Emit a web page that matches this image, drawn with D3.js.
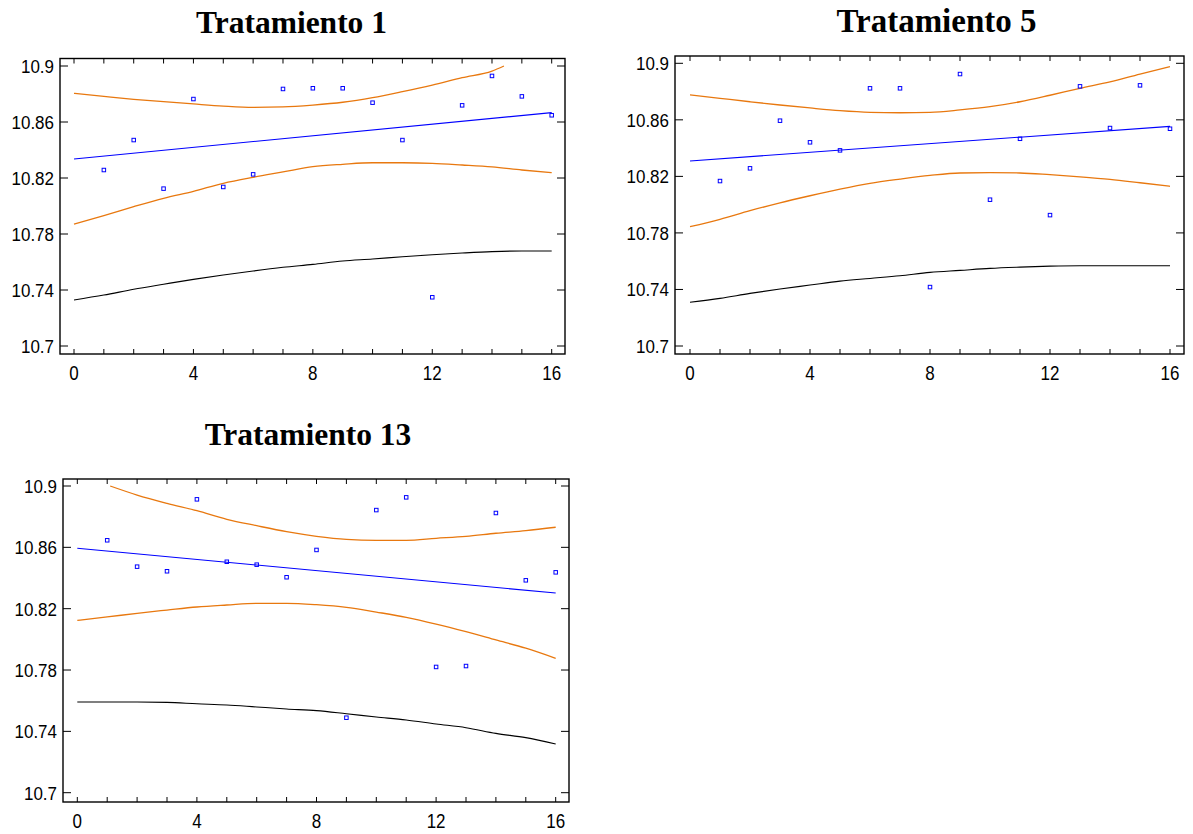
<!DOCTYPE html>
<html>
<head>
<meta charset="utf-8">
<script src="https://cdn.jsdelivr.net/npm/d3@7"></script>
<style>
  body { margin: 0; background: #fff; }
  svg { display: block; }
  .tick-label { font-family: "Liberation Sans", Arial, sans-serif; font-size: 17px; fill: #000; }
  .title { font-family: "Liberation Serif", "Times New Roman", serif; font-weight: bold; fill: #000; }
</style>
</head>
<body>
<script>
// ---- data ----
var xTicks = [0, 4, 8, 12, 16];
var yTicks = [10.7, 10.74, 10.78, 10.82, 10.86, 10.9];
var days = [1, 2, 3, 4, 5, 6, 7, 8, 9, 10, 11, 12, 13, 14, 15, 16];
var gridX = [0, 1, 2, 3, 4, 5, 6, 7, 8, 9, 10, 11, 12, 13, 14, 15, 16];

// Tratamiento 1
var t1Obs = [10.8257, 10.8471, 10.8124, 10.8764, 10.8136, 10.8226, 10.8836, 10.8841,
             10.8841, 10.8738, 10.8471, 10.7348, 10.8719, 10.8929, 10.8783, 10.8648];
var t1Fit = [[0, 10.8336], [16, 10.8667]];
var t1Upper = [[0, 10.8805], [1, 10.8783], [2, 10.8762], [3, 10.8745], [4, 10.8729], [5, 10.8714],
               [6, 10.8705], [7, 10.8708], [8, 10.8721], [9, 10.8741], [10, 10.8774], [11, 10.8817],
               [12, 10.8864], [13, 10.8917], [14, 10.8964], [14.4, 10.9]];
var t1Lower = [10.7871, 10.7931, 10.7995, 10.8055, 10.8105, 10.8162, 10.8205, 10.8243, 10.8281,
               10.8298, 10.8309, 10.8309, 10.8305, 10.8293, 10.8279, 10.8257, 10.8238];
var t1Limit = [10.7329, 10.7364, 10.7405, 10.7441, 10.7476, 10.7507, 10.7536, 10.7562, 10.7583,
               10.7607, 10.7621, 10.7638, 10.7652, 10.7664, 10.7674, 10.7679, 10.7679];

// Tratamiento 5
var t5Obs = [10.8167, 10.8257, 10.8594, 10.8441, 10.8384, 10.8823, 10.8823, 10.7417,
             10.8924, 10.8035, 10.8466, 10.7926, 10.8837, 10.8542, 10.8844, 10.8537];
var t5Fit = [[0, 10.8309], [16, 10.8554]];
var t5Upper = [[0, 10.8776], [1, 10.8752], [2, 10.8728], [3, 10.8705], [4, 10.8684], [5, 10.8665],
               [6, 10.8653], [7, 10.8650], [8, 10.8653], [9, 10.8670], [10, 10.8693], [11, 10.8728],
               [12, 10.8774], [13, 10.8823], [14, 10.8868], [15, 10.8924], [16, 10.8976]];
var t5Lower = [10.7844, 10.7896, 10.7957, 10.8013, 10.8063, 10.8110, 10.8151, 10.8181, 10.8207,
               10.8224, 10.8226, 10.8224, 10.8212, 10.8197, 10.8179, 10.8155, 10.8130];
var t5Limit = [10.7309, 10.7337, 10.7372, 10.7403, 10.7431, 10.7459, 10.7478, 10.7497, 10.7521,
               10.7535, 10.7549, 10.7558, 10.7565, 10.7568, 10.7568, 10.7568, 10.7568];

// Tratamiento 13
var t13Obs = [10.8646, 10.8474, 10.8444, 10.8913, 10.8506, 10.8487, 10.8405, 10.8583,
              10.7489, 10.8843, 10.8926, 10.7820, 10.7826, 10.8824, 10.8385, 10.8437];
var t13Fit = [[0, 10.8594], [16, 10.8302]];
var t13Upper = [[1.1, 10.9], [2, 10.8941], [3, 10.8887], [4, 10.8839], [5, 10.8783], [6, 10.8741],
                [7, 10.8702], [8, 10.8672], [9, 10.8652], [10, 10.8646], [11, 10.8646], [12, 10.8659],
                [13, 10.8672], [14, 10.8692], [15, 10.8709], [16, 10.8731]];
var t13Lower = [10.8124, 10.8146, 10.8170, 10.8191, 10.8211, 10.8224, 10.8235, 10.8235, 10.8226,
                10.8209, 10.8178, 10.8144, 10.8100, 10.8050, 10.7996, 10.7942, 10.7876];
var t13Limit = [10.7591, 10.7591, 10.7591, 10.7589, 10.7580, 10.7572, 10.7559, 10.7546, 10.7535,
                10.7515, 10.7494, 10.7474, 10.7448, 10.7424, 10.7387, 10.7359, 10.7318];

// ---- layout ----
var width = 1193, height = 834;
var orange = "#e8780f";

var panels = [
  { title: "Tratamiento 1", tx: 291.5, ty: 33, ts: 31.5,
    frame: [60, 58.5, 565, 354], xr: [74, 551.7], yr: [346, 66],
    obs: t1Obs, fit: t1Fit, upper: t1Upper, lower: t1Lower, limit: t1Limit },
  { title: "Tratamiento 5", tx: 936.5, ty: 31.7, ts: 33,
    frame: [675, 56, 1184, 354], xr: [690, 1170], yr: [346, 63.3],
    obs: t5Obs, fit: t5Fit, upper: t5Upper, lower: t5Lower, limit: t5Limit },
  { title: "Tratamiento 13", tx: 308, ty: 445, ts: 31.5,
    frame: [63, 479, 569, 802], xr: [77.3, 555.7], yr: [792.7, 486],
    obs: t13Obs, fit: t13Fit, upper: t13Upper, lower: t13Lower, limit: t13Limit }
];

var svg = d3.select("body").append("svg")
  .attr("width", width)
  .attr("height", height);

panels.forEach(function(p) {
  var x = d3.scaleLinear().domain([0, 16]).range(p.xr);
  var y = d3.scaleLinear().domain([10.7, 10.9]).range(p.yr);
  var f = p.frame;
  var g = svg.append("g");

  g.append("text")
    .attr("class", "title")
    .attr("x", p.tx).attr("y", p.ty)
    .attr("text-anchor", "middle")
    .style("font-size", p.ts + "px")
    .text(p.title);

  // frame
  g.append("rect")
    .attr("x", f[0]).attr("y", f[1])
    .attr("width", f[2] - f[0]).attr("height", f[3] - f[1])
    .attr("fill", "none").attr("stroke", "#000").attr("stroke-width", 1.4);

  // x ticks every unit, top and bottom, pointing inward
  gridX.forEach(function(d) {
    g.append("line").attr("x1", x(d)).attr("x2", x(d))
      .attr("y1", f[3]).attr("y2", f[3] - 5).attr("stroke", "#000");
    g.append("line").attr("x1", x(d)).attr("x2", x(d))
      .attr("y1", f[1]).attr("y2", f[1] + 5).attr("stroke", "#000");
  });
  // y ticks left and right
  yTicks.forEach(function(d) {
    g.append("line").attr("x1", f[0]).attr("x2", f[0] + 8)
      .attr("y1", y(d)).attr("y2", y(d)).attr("stroke", "#000");
    g.append("line").attr("x1", f[2]).attr("x2", f[2] - 8)
      .attr("y1", y(d)).attr("y2", y(d)).attr("stroke", "#000");
  });

  // tick labels are a bit taller than wide in the original
  g.selectAll(".xl").data(xTicks).enter().append("text")
    .attr("class", "tick-label")
    .attr("transform", function(d) { return "translate(" + x(d) + "," + (f[3] + 26) + ") scale(1,1.15)"; })
    .attr("text-anchor", "middle")
    .text(function(d) { return d; });

  g.selectAll(".yl").data(yTicks).enter().append("text")
    .attr("class", "tick-label")
    .attr("transform", function(d) { return "translate(" + (f[0] - 6) + "," + y(d) + ") scale(1,1.12)"; })
    .attr("dy", "0.36em")
    .attr("text-anchor", "end")
    .text(function(d) { return d3.format("")(d); });

  var line = d3.line()
    .x(function(d) { return x(d[0]); })
    .y(function(d) { return y(d[1]); })
    .curve(d3.curveMonotoneX);

  function pairs(vals) {
    return vals.map(function(v, i) { return [gridX[i], v]; });
  }

  g.append("path").datum(pairs(p.limit))
    .attr("d", line).attr("fill", "none").attr("stroke", "#000").attr("stroke-width", 1.1);
  g.append("path").datum(p.upper)
    .attr("d", line).attr("fill", "none").attr("stroke", orange).attr("stroke-width", 1.3);
  g.append("path").datum(pairs(p.lower))
    .attr("d", line).attr("fill", "none").attr("stroke", orange).attr("stroke-width", 1.3);
  g.append("path").datum(p.fit)
    .attr("d", line).attr("fill", "none").attr("stroke", "#0000ff").attr("stroke-width", 1.1);

  g.selectAll(".pt").data(p.obs).enter().append("rect")
    .attr("x", function(d, i) { return x(days[i]) - 1.75; })
    .attr("y", function(d) { return y(d) - 1.75; })
    .attr("width", 3.5).attr("height", 3.5)
    .attr("fill", "none").attr("stroke", "#0000ff").attr("stroke-width", 1);
});
</script>
</body>
</html>
